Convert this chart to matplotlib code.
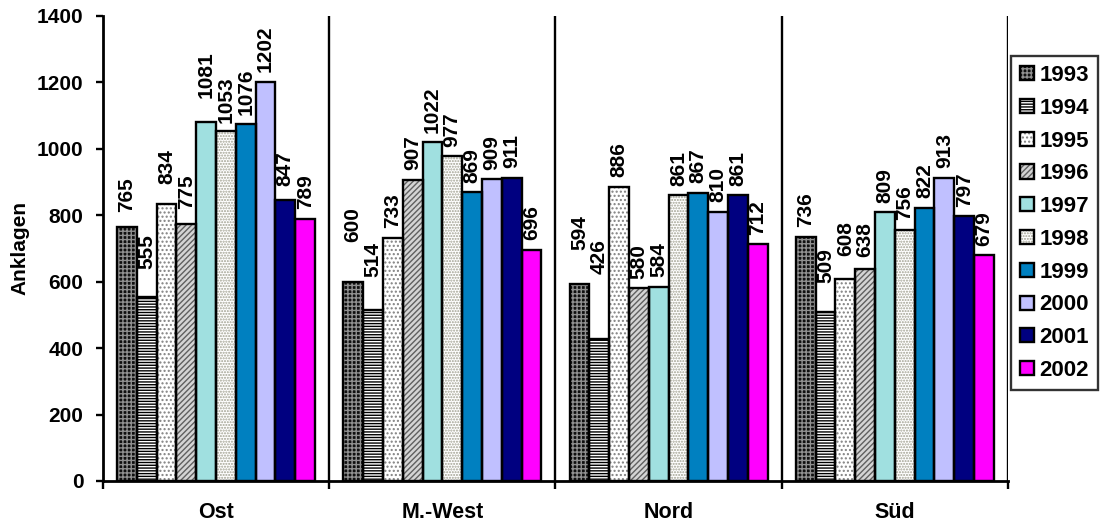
#!/usr/bin/env python3
# -*- coding: utf-8 -*-
"""Anklagen per Region und Jahr, 1993-2002 (grouped bars)."""
import numpy as np
import matplotlib
matplotlib.use("Agg")
import matplotlib.pyplot as plt

regions = ["Ost", "M.-West", "Nord", "Süd"]
years = ["1993", "1994", "1995", "1996", "1997", "1998", "1999", "2000", "2001", "2002"]

ost = [765, 555, 834, 775, 1081, 1053, 1076, 1202, 847, 789]
m_west = [600, 514, 733, 907, 1022, 977, 869, 909, 911, 696]
nord = [594, 426, 886, 580, 584, 861, 867, 810, 861, 712]
sued = [736, 509, 608, 638, 809, 756, 822, 913, 797, 679]

yticks = [0, 200, 400, 600, 800, 1000, 1200, 1400]

# (face, hatch, hatch colour) per year
styles = [
    ("#101010", "++++", "#909090"),
    ("white", "------", "black"),
    ("white", "....", "#808080"),
    ("#d4d4d4", "//////", "#606060"),
    ("#a0e0e0", "", "none"),
    ("white", "......", "#a0a090"),
    ("#0080c0", "", "none"),
    ("#c0c0ff", "", "none"),
    ("#000080", "", "none"),
    ("#ff00ff", "", "none"),
]

# labels that were pushed up by hand so they don't collide (extra px)
label_lift = {
    (0, 0): 5, (0, 1): 18, (0, 2): 10, (0, 3): 5, (0, 4): 20, (0, 5): 5,
    (0, 6): 5, (0, 7): 6, (0, 8): 4,
    (1, 0): 30, (1, 1): 24, (1, 4): 5,
    (2, 0): 24, (2, 1): 56,
    (3, 1): 19, (3, 2): 13, (3, 3): 3,
}

plt.rcParams["font.family"] = ["Liberation Sans", "DejaVu Sans"]
plt.rcParams["font.weight"] = "bold"
plt.rcParams["hatch.linewidth"] = 1.0

data = np.array([ost, m_west, nord, sued])  # regions x years
n_reg, n_yr = data.shape

fig = plt.figure(figsize=(11.01, 5.24), dpi=100)
ax = fig.add_axes([0.0935, 0.0821, 0.822, 0.8874])

width = 0.0875
margin = (1 - n_yr * width) / 2
x0 = np.arange(n_reg) + margin

handles = []
for j, year in enumerate(years):
    face, hatch, hcol = styles[j]
    xs = x0 + j * width
    vals = data[:, j]
    ax.bar(xs, vals, width, align="edge", facecolor=face, hatch=hatch,
           edgecolor=hcol, linewidth=0, zorder=2)
    ax.bar(xs, vals, width, align="edge", fill=False, edgecolor="black",
           linewidth=1.7, zorder=3)
    fill_h = plt.Rectangle((0, 0), 1, 1, facecolor=face, hatch=hatch,
                           edgecolor=hcol, linewidth=0)
    line_h = plt.Rectangle((0, 0), 1, 1, fill=False, edgecolor="black", linewidth=1.7)
    handles.append((fill_h, line_h))
    for i, (x, v) in enumerate(zip(xs, vals)):
        off = (27 + label_lift.get((i, j), 0)) * 0.72
        ax.annotate(str(v), (x + width / 2, v), xytext=(0, off),
                    textcoords="offset points", rotation=90,
                    ha="center", va="center", fontsize=15,
                    fontweight="bold", zorder=4)

# region separators
for b in range(1, n_reg + 1):
    ax.axvline(b, color="black", linewidth=1.7, zorder=1)

ax.set_xlim(0, n_reg)
ax.set_ylim(0, 1400)
ax.set_yticks(yticks)
ax.set_yticklabels([str(t) for t in yticks], fontsize=15, fontweight="bold")
ax.tick_params(axis="y", direction="out", length=5, width=1.7, pad=9)

ax.set_xticks(np.arange(n_reg + 1))
ax.set_xticklabels([])
ax.set_xticks(np.arange(n_reg) + 0.5, minor=True)
ax.set_xticklabels(regions, minor=True, fontsize=15.5, fontweight="bold")
ax.tick_params(axis="x", which="major", direction="out", length=6, width=1.7)
ax.tick_params(axis="x", which="minor", length=0, pad=15)

for s in ["top", "right"]:
    ax.spines[s].set_visible(False)
for s in ["left", "bottom"]:
    ax.spines[s].set_linewidth(2)

ax.set_ylabel("Anklagen", fontsize=15, fontweight="bold", labelpad=5)

leg = fig.legend(handles, years, loc="upper right",
                 bbox_to_anchor=(0.997, 0.893),
                 prop={"weight": "bold", "size": 16},
                 handlelength=0.6, handleheight=0.6, handletextpad=0.25,
                 labelspacing=0.53, borderpad=0.4, borderaxespad=0,
                 fancybox=False, frameon=True)
leg.get_frame().set_edgecolor("black")
leg.get_frame().set_linewidth(1.7)

fig.savefig("out.png", dpi=100)
